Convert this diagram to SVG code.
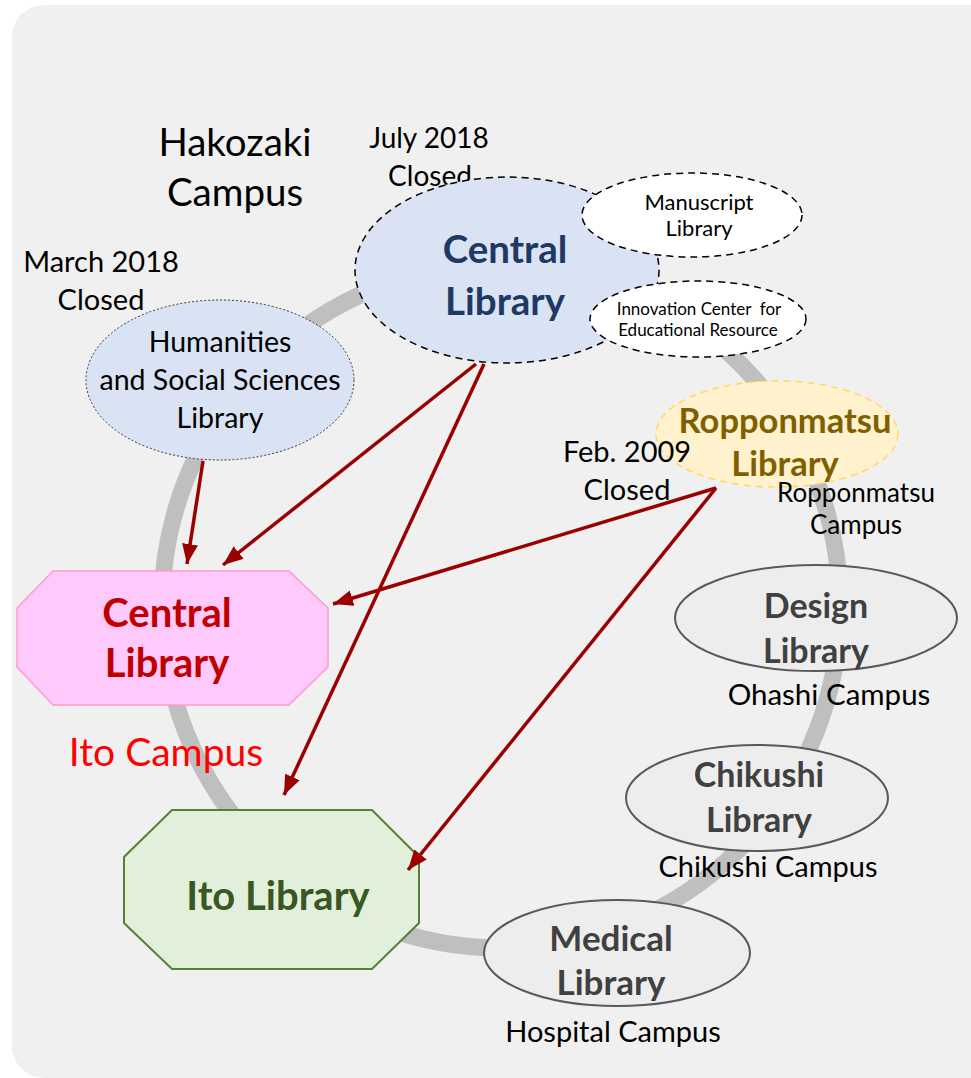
<svg xmlns="http://www.w3.org/2000/svg" width="971" height="1078" viewBox="0 0 971 1078">
<defs>
<style>
text{font-family:Lato,"Liberation Sans",sans-serif;text-anchor:middle;}
.lbl{fill:#000;font-size:29px;}
.b{font-weight:bold;}
.grey ellipse{fill:#ededed;stroke:#595959;stroke-width:2;}
.grey text{fill:#404040;font-weight:bold;font-size:34px;}
.arr{stroke:#9a0000;stroke-width:3.5;fill:none;marker-end:url(#ah);}
</style>
<marker id="ah" markerUnits="userSpaceOnUse" markerWidth="24" markerHeight="18" refX="20" refY="8" orient="auto">
<path d="M0,0 L20,8 L0,16 Z" fill="#9a0000"/>
</marker>
</defs>
<rect x="12" y="5" width="990" height="1073" rx="32" fill="#f0f0f0"/>
<ellipse id="ring" cx="501" cy="606" rx="339" ry="342" fill="none" stroke="#bfbfbf" stroke-width="17"/>

<g id="hakozaki-label">
<text class="lbl" x="235" y="156" style="font-size:38.5px">Hakozaki</text>
<text class="lbl" x="235" y="206" style="font-size:38.5px">Campus</text>
</g>
<g id="july-label">
<text class="lbl" x="429" y="148" style="font-size:28px">July 2018</text>
<text class="lbl" x="430" y="186" style="font-size:28px">Closed</text>
</g>
<g id="march-label">
<text class="lbl" x="101" y="272">March 2018</text>
<text class="lbl" x="101" y="310">Closed</text>
</g>

<g id="central-hakozaki">
<ellipse cx="507" cy="270" rx="152" ry="93" fill="#dae3f3" stroke="#000" stroke-width="1.5" stroke-dasharray="7,5"/>
<text class="b" x="505" y="263" fill="#203864" font-size="38.5">Central</text>
<text class="b" x="505" y="315" fill="#203864" font-size="38.5">Library</text>
</g>
<g id="manuscript">
<ellipse cx="692" cy="215" rx="110" ry="42" fill="#fff" stroke="#000" stroke-width="1.5" stroke-dasharray="7,5"/>
<text x="699" y="210" font-size="22">Manuscript</text>
<text x="699" y="236" font-size="22">Library</text>
</g>
<g id="innovation">
<ellipse cx="698" cy="319" rx="108" ry="38" fill="#fff" stroke="#000" stroke-width="1.5" stroke-dasharray="7,5"/>
<text x="699" y="315" font-size="17" xml:space="preserve">Innovation Center  for</text>
<text x="698" y="336" font-size="17">Educational Resource</text>
</g>
<g id="humanities">
<ellipse cx="220" cy="380" rx="134" ry="80" fill="#dae3f3" stroke="#333" stroke-width="1" stroke-dasharray="2,2"/>
<text x="220" y="352" font-size="28.5">Humanities</text>
<text x="220" y="390" font-size="28.5">and Social Sciences</text>
<text x="220" y="428" font-size="28.5">Library</text>
</g>
<g id="ropponmatsu">
<ellipse cx="777" cy="434" rx="121" ry="53" fill="#fff2cc" stroke="#ffd966" stroke-width="1.5" stroke-dasharray="7,5"/>
<text class="b" x="785" y="433" fill="#7f6000" font-size="34.5">Ropponmatsu</text>
<text class="b" x="785" y="476" fill="#7f6000" font-size="34.5">Library</text>
</g>
<g id="feb-label">
<text class="lbl" x="627" y="462">Feb. 2009</text>
<text class="lbl" x="627" y="500">Closed</text>
</g>
<g id="ropponmatsu-campus">
<text x="856" y="502" font-size="26">Ropponmatsu</text>
<text x="856" y="534" font-size="26">Campus</text>
</g>
<g id="design" class="grey">
<ellipse cx="816" cy="618" rx="141" ry="53"/>
<text x="816" y="618">Design</text>
<text x="816" y="663">Library</text>
</g>
<g id="ohashi"><text x="829" y="705" font-size="29.5">Ohashi Campus</text></g>
<g id="chikushi" class="grey">
<ellipse cx="757" cy="798" rx="131" ry="53"/>
<text x="759" y="787">Chikushi</text>
<text x="759" y="832">Library</text>
</g>
<g id="chikushi-campus"><text x="768" y="877" font-size="29">Chikushi Campus</text></g>
<g id="medical" class="grey">
<ellipse cx="617" cy="953" rx="133" ry="53"/>
<text x="611" y="951" style="font-size:35px">Medical</text>
<text x="611" y="995" style="font-size:35px">Library</text>
</g>
<g id="hospital"><text x="613" y="1042" font-size="29">Hospital Campus</text></g>

<g id="central-ito">
<polygon points="53,571 289,571 328,608 328,667 289,705 53,705 17,667 17,608" fill="#ffc9fb" stroke="#ff99cc" stroke-width="1.5"/>
<text class="b" x="167" y="627" fill="#c00000" font-size="40">Central</text>
<text class="b" x="167" y="677" fill="#c00000" font-size="40">Library</text>
</g>
<g id="ito-campus"><text x="166" y="766" fill="#ff0000" font-size="39">Ito Campus</text></g>
<g id="ito-library">
<polygon points="172,810 372,810 419,857 419,923 372,969 172,969 124,923 124,857" fill="#e2efda" stroke="#548235" stroke-width="2"/>
<text class="b" x="278" y="910" fill="#385723" font-size="40">Ito Library</text>
</g>

<g id="connectors">
<line class="arr" x1="203" y1="461" x2="187" y2="564"/>
<line class="arr" x1="476" y1="364" x2="223" y2="565"/>
<line class="arr" x1="484" y1="364" x2="284" y2="795"/>
<line class="arr" x1="716" y1="488" x2="333" y2="604"/>
<line class="arr" x1="716" y1="488" x2="408" y2="870"/>
</g>
</svg>
